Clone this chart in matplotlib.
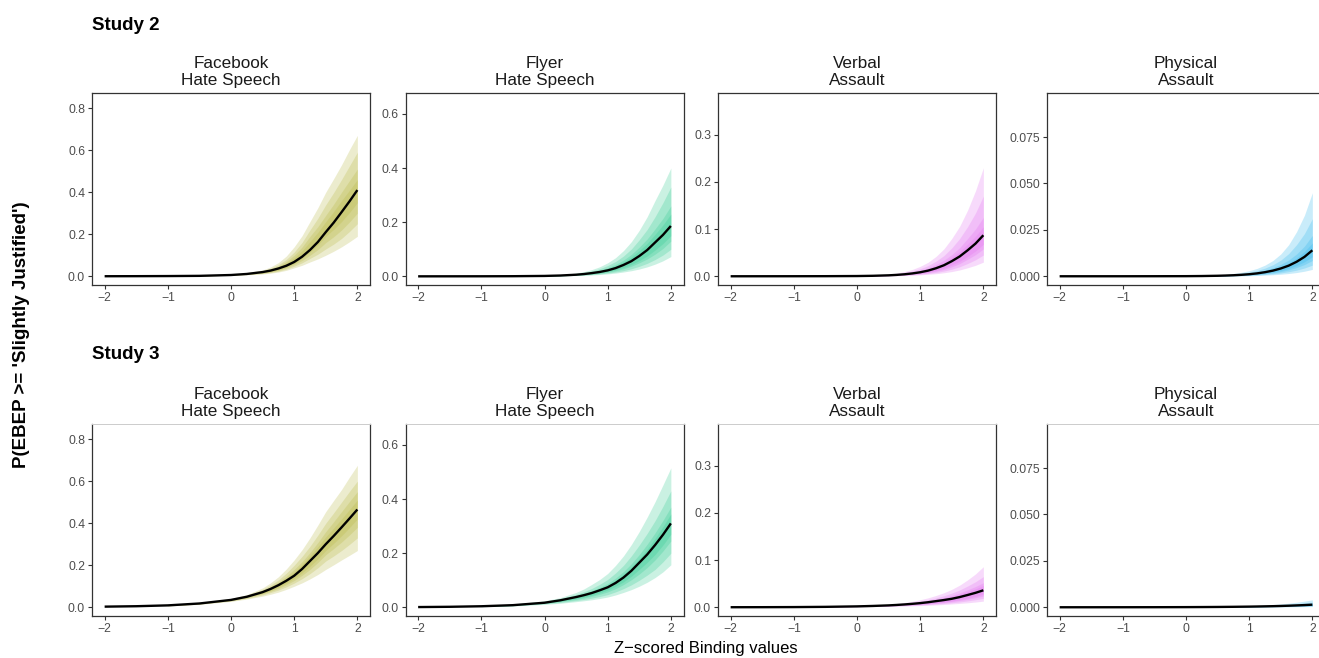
import matplotlib
matplotlib.use("Agg")
import matplotlib.pyplot as plt

plt.rcParams['font.family'] = ['Liberation Sans', 'DejaVu Sans']

# ---- data ----
X = [-2, -1.5, -1, -0.5, 0, 0.25, 0.5, 0.625, 0.75, 0.875, 1, 1.125, 1.25, 1.375, 1.5, 1.625, 1.75, 1.875, 2]
BAND_X = [-1, -0.5, 0, 0.25, 0.5, 0.625, 0.75, 0.875, 1, 1.125, 1.25, 1.375, 1.5, 1.625, 1.75, 1.875, 2]

titles = ["Facebook\nHate Speech", "Flyer\nHate Speech", "Verbal\nAssault", "Physical\nAssault"]
studies = ["Study 2", "Study 3"]
colors = ["#B5B53C", "#2CCB8F", "#E26EF0", "#2BB5EE"]
ylims = [(-0.0415, 0.8715), (-0.032, 0.677), (-0.0185, 0.3885), (-0.0047, 0.0987)]
yticks = [[0.0, 0.2, 0.4, 0.6, 0.8], [0.0, 0.2, 0.4, 0.6], [0.0, 0.1, 0.2, 0.3],
          [0.0, 0.025, 0.05, 0.075]]
yfmt = ["{:.1f}", "{:.1f}", "{:.1f}", "{:.3f}"]

# bands listed outer -> inner

# Study 2 - Facebook
fb2_mid = [0.0002, 0.0005, 0.001, 0.002, 0.006, 0.011, 0.02, 0.027, 0.037, 0.05, 0.068, 0.093, 0.125, 0.163, 0.21, 0.255, 0.305, 0.356, 0.41]
fb2_hi = [[0.0012, 0.0027, 0.008, 0.017, 0.03, 0.044, 0.065, 0.096, 0.14, 0.193, 0.26, 0.326, 0.40, 0.464, 0.53, 0.602, 0.67],
          [0.0011, 0.0025, 0.0075, 0.015, 0.026, 0.038, 0.055, 0.080, 0.115, 0.161, 0.22, 0.276, 0.34, 0.398, 0.46, 0.525, 0.59],
          [0.0011, 0.0023, 0.007, 0.0135, 0.023, 0.033, 0.048, 0.070, 0.10, 0.139, 0.19, 0.236, 0.29, 0.343, 0.40, 0.455, 0.51],
          [0.00105, 0.0022, 0.0065, 0.0125, 0.021, 0.030, 0.043, 0.062, 0.088, 0.121, 0.165, 0.209, 0.26, 0.308, 0.36, 0.409, 0.46]]
fb2_lo = [[0.0008, 0.0015, 0.0045, 0.007, 0.011, 0.0148, 0.02, 0.0283, 0.04, 0.0522, 0.068, 0.0826, 0.10, 0.119, 0.14, 0.164, 0.19],
          [0.0009, 0.0016, 0.005, 0.008, 0.013, 0.0177, 0.024, 0.034, 0.048, 0.064, 0.085, 0.105, 0.13, 0.153, 0.18, 0.213, 0.25],
          [0.0009, 0.0017, 0.0053, 0.009, 0.015, 0.0205, 0.028, 0.040, 0.056, 0.075, 0.10, 0.127, 0.16, 0.188, 0.22, 0.258, 0.30],
          [0.00095, 0.0018, 0.0056, 0.0095, 0.016, 0.022, 0.031, 0.044, 0.062, 0.085, 0.115, 0.149, 0.19, 0.223, 0.26, 0.303, 0.35]]

# Study 2 - Flyer
fl2_mid = [0.0, 0.0001, 0.0002, 0.0005, 0.0015, 0.003, 0.006, 0.0085, 0.012, 0.0162, 0.022, 0.0304, 0.042, 0.0561, 0.075, 0.097, 0.125, 0.153, 0.186]
fl2_hi = [[0.0003, 0.0009, 0.0025, 0.0055, 0.012, 0.0173, 0.025, 0.0354, 0.05, 0.0689, 0.095, 0.128, 0.17, 0.22, 0.28, 0.337, 0.40],
          [0.00027, 0.0008, 0.0022, 0.0047, 0.01, 0.0141, 0.02, 0.0283, 0.04, 0.0548, 0.075, 0.101, 0.135, 0.173, 0.22, 0.272, 0.33],
          [0.00025, 0.0007, 0.0019, 0.004, 0.008, 0.0113, 0.016, 0.0226, 0.032, 0.0438, 0.06, 0.081, 0.108, 0.138, 0.175, 0.214, 0.26],
          [0.00023, 0.0006, 0.0017, 0.0035, 0.007, 0.0099, 0.014, 0.0198, 0.028, 0.0385, 0.053, 0.071, 0.095, 0.122, 0.155, 0.19, 0.23]]
fl2_lo = [[0.0001, 0.0003, 0.0008, 0.0016, 0.003, 0.0039, 0.005, 0.0067, 0.009, 0.012, 0.016, 0.0208, 0.027, 0.0349, 0.045, 0.0573, 0.073],
          [0.00013, 0.00035, 0.001, 0.0019, 0.0035, 0.0048, 0.0065, 0.0088, 0.012, 0.0159, 0.021, 0.0279, 0.037, 0.0479, 0.062, 0.0787, 0.10],
          [0.00015, 0.0004, 0.0011, 0.0022, 0.0043, 0.0059, 0.008, 0.011, 0.015, 0.0205, 0.028, 0.0374, 0.05, 0.064, 0.082, 0.103, 0.13],
          [0.00017, 0.00045, 0.0013, 0.0025, 0.005, 0.0069, 0.0095, 0.0131, 0.018, 0.0244, 0.033, 0.0437, 0.058, 0.075, 0.097, 0.121, 0.15]]

# Study 2 - Verbal
va2_mid = [0.0, 0.00005, 0.0001, 0.0002, 0.0005, 0.001, 0.002, 0.0029, 0.0042, 0.006, 0.0085, 0.012, 0.017, 0.0233, 0.032, 0.042, 0.055, 0.0692, 0.087]
va2_hi = [[0.0002, 0.0004, 0.001, 0.0022, 0.0048, 0.0069, 0.01, 0.0145, 0.021, 0.0297, 0.042, 0.058, 0.08, 0.106, 0.14, 0.181, 0.23],
          [0.00016, 0.00033, 0.0008, 0.0018, 0.0037, 0.0054, 0.0078, 0.0112, 0.016, 0.0226, 0.032, 0.0438, 0.06, 0.08, 0.105, 0.134, 0.17],
          [0.00014, 0.00028, 0.0007, 0.0015, 0.003, 0.0043, 0.0062, 0.0088, 0.0125, 0.0177, 0.025, 0.0339, 0.046, 0.0607, 0.08, 0.10, 0.125],
          [0.00012, 0.00025, 0.0006, 0.0013, 0.0026, 0.0037, 0.0053, 0.0075, 0.0107, 0.015, 0.021, 0.029, 0.04, 0.0522, 0.068, 0.0845, 0.105]]
va2_lo = [[0.00004, 0.0001, 0.0002, 0.0004, 0.0008, 0.0011, 0.0016, 0.0022, 0.003, 0.0041, 0.0055, 0.0074, 0.01, 0.0134, 0.018, 0.0232, 0.03],
          [0.00006, 0.00013, 0.00028, 0.00055, 0.0011, 0.00156, 0.0022, 0.003, 0.0042, 0.0058, 0.008, 0.011, 0.015, 0.0201, 0.027, 0.0349, 0.045],
          [0.00007, 0.00016, 0.00035, 0.0007, 0.0014, 0.002, 0.0028, 0.0039, 0.0054, 0.0075, 0.0105, 0.0145, 0.02, 0.0268, 0.036, 0.0457, 0.058],
          [0.00008, 0.00018, 0.0004, 0.0008, 0.0016, 0.0023, 0.0032, 0.0045, 0.0063, 0.0089, 0.0125, 0.0173, 0.024, 0.0317, 0.042, 0.0534, 0.068]]

# Study 2 - Physical
pa2_mid = [0.0, 0.000005, 0.00001, 0.00003, 0.00006, 0.00013, 0.00027, 0.00039, 0.00055, 0.00078, 0.0011, 0.00156, 0.0022, 0.00304, 0.0042, 0.00572, 0.0078, 0.01045, 0.014]
pa2_hi = [[0.00003, 0.00009, 0.00018, 0.00037, 0.00075, 0.00106, 0.0015, 0.00212, 0.003, 0.00424, 0.006, 0.00849, 0.012, 0.017, 0.024, 0.0329, 0.045],
          [0.00002, 0.00006, 0.00013, 0.00027, 0.00055, 0.00078, 0.0011, 0.00156, 0.0022, 0.00311, 0.0044, 0.00619, 0.0087, 0.0122, 0.017, 0.023, 0.031],
          [0.000015, 0.00005, 0.0001, 0.0002, 0.00042, 0.0006, 0.00085, 0.0012, 0.0017, 0.00237, 0.0033, 0.0046, 0.0064, 0.00876, 0.012, 0.01625, 0.022],
          [0.000013, 0.00004, 0.00008, 0.00017, 0.00035, 0.000495, 0.0007, 0.00099, 0.0014, 0.00198, 0.0028, 0.00385, 0.0053, 0.00721, 0.0098, 0.0133, 0.018]]
pa2_lo = [[0.000004, 0.00001, 0.00002, 0.00004, 0.00008, 0.00011, 0.00015, 0.00021, 0.0003, 0.00042, 0.0006, 0.00081, 0.0011, 0.00148, 0.002, 0.00272, 0.0037],
          [0.000006, 0.000015, 0.00003, 0.00006, 0.00012, 0.00017, 0.00025, 0.00035, 0.0005, 0.00069, 0.00095, 0.00131, 0.0018, 0.00244, 0.0033, 0.00445, 0.006],
          [0.000008, 0.00002, 0.00004, 0.00008, 0.00017, 0.00024, 0.00034, 0.00048, 0.00068, 0.00094, 0.0013, 0.0018, 0.0025, 0.00343, 0.0047, 0.00632, 0.0085],
          [0.000009, 0.000025, 0.00005, 0.0001, 0.0002, 0.00028, 0.0004, 0.00057, 0.0008, 0.00113, 0.0016, 0.00223, 0.0031, 0.00424, 0.0058, 0.0078, 0.0105]]

# Study 3 - Facebook
fb3_mid = [0.003, 0.005, 0.009, 0.018, 0.035, 0.05, 0.072, 0.087, 0.105, 0.126, 0.15, 0.182, 0.22, 0.258, 0.30, 0.339, 0.38, 0.422, 0.465]
fb3_hi = [[0.013, 0.023, 0.042, 0.06, 0.092, 0.116, 0.145, 0.182, 0.225, 0.274, 0.33, 0.391, 0.455, 0.508, 0.56, 0.619, 0.675],
          [0.012, 0.0215, 0.04, 0.057, 0.085, 0.105, 0.13, 0.162, 0.20, 0.242, 0.29, 0.343, 0.40, 0.449, 0.50, 0.551, 0.60],
          [0.011, 0.0205, 0.038, 0.054, 0.079, 0.098, 0.12, 0.147, 0.18, 0.217, 0.26, 0.308, 0.36, 0.407, 0.455, 0.503, 0.55],
          [0.0105, 0.0198, 0.037, 0.052, 0.076, 0.093, 0.113, 0.138, 0.168, 0.204, 0.245, 0.288, 0.335, 0.377, 0.42, 0.465, 0.51]]
fb3_lo = [[0.006, 0.014, 0.028, 0.039, 0.053, 0.062, 0.072, 0.085, 0.10, 0.116, 0.135, 0.156, 0.18, 0.202, 0.225, 0.247, 0.27],
          [0.0068, 0.015, 0.030, 0.042, 0.059, 0.070, 0.082, 0.097, 0.115, 0.136, 0.16, 0.188, 0.22, 0.244, 0.27, 0.299, 0.33],
          [0.0075, 0.016, 0.032, 0.045, 0.064, 0.076, 0.09, 0.107, 0.127, 0.152, 0.18, 0.213, 0.25, 0.279, 0.31, 0.344, 0.38],
          [0.008, 0.0167, 0.033, 0.047, 0.067, 0.080, 0.096, 0.115, 0.137, 0.164, 0.195, 0.23, 0.27, 0.304, 0.34, 0.379, 0.42]]

# Study 3 - Flyer
fl3_mid = [0.001, 0.002, 0.004, 0.008, 0.017, 0.026, 0.038, 0.045, 0.053, 0.063, 0.074, 0.09, 0.11, 0.135, 0.165, 0.195, 0.23, 0.268, 0.31]
fl3_hi = [[0.0065, 0.012, 0.024, 0.036, 0.055, 0.068, 0.085, 0.103, 0.125, 0.155, 0.19, 0.232, 0.28, 0.333, 0.39, 0.452, 0.515],
          [0.0058, 0.011, 0.022, 0.032, 0.048, 0.058, 0.07, 0.085, 0.103, 0.127, 0.155, 0.19, 0.23, 0.273, 0.32, 0.373, 0.43],
          [0.0052, 0.0098, 0.020, 0.029, 0.043, 0.052, 0.062, 0.074, 0.088, 0.108, 0.132, 0.161, 0.195, 0.233, 0.275, 0.321, 0.37],
          [0.0048, 0.0093, 0.019, 0.028, 0.041, 0.049, 0.058, 0.069, 0.081, 0.10, 0.122, 0.149, 0.18, 0.215, 0.255, 0.298, 0.345]]
fl3_lo = [[0.0024, 0.005, 0.011, 0.015, 0.021, 0.0243, 0.028, 0.0326, 0.038, 0.0457, 0.055, 0.0655, 0.078, 0.0926, 0.11, 0.131, 0.157],
          [0.0028, 0.0058, 0.013, 0.018, 0.025, 0.029, 0.034, 0.040, 0.047, 0.057, 0.069, 0.083, 0.10, 0.119, 0.14, 0.168, 0.20],
          [0.0031, 0.0065, 0.0145, 0.021, 0.029, 0.0345, 0.041, 0.0483, 0.057, 0.069, 0.084, 0.102, 0.123, 0.147, 0.175, 0.208, 0.245],
          [0.0034, 0.007, 0.0155, 0.023, 0.032, 0.038, 0.045, 0.054, 0.064, 0.078, 0.094, 0.115, 0.14, 0.166, 0.195, 0.23, 0.27]]

# Study 3 - Verbal
va3_mid = [0.0001, 0.0002, 0.0004, 0.0009, 0.0019, 0.0028, 0.004, 0.0049, 0.006, 0.0073, 0.0088, 0.0107, 0.013, 0.0153, 0.018, 0.0216, 0.026, 0.0306, 0.036]
va3_hi = [[0.0007, 0.0014, 0.0026, 0.004, 0.0063, 0.0079, 0.01, 0.0126, 0.016, 0.02, 0.025, 0.0308, 0.038, 0.0469, 0.058, 0.0706, 0.086],
          [0.0006, 0.0012, 0.0024, 0.0036, 0.0055, 0.0068, 0.0085, 0.0105, 0.013, 0.0161, 0.02, 0.0245, 0.03, 0.0367, 0.045, 0.0541, 0.065],
          [0.00055, 0.0011, 0.0022, 0.0032, 0.0049, 0.006, 0.0074, 0.0091, 0.0112, 0.0138, 0.017, 0.0206, 0.025, 0.0304, 0.037, 0.0439, 0.052],
          [0.0005, 0.00105, 0.0021, 0.003, 0.0046, 0.0056, 0.0069, 0.0084, 0.0103, 0.0126, 0.0155, 0.0187, 0.0225, 0.0272, 0.033, 0.039, 0.046]]
va3_lo = [[0.0002, 0.0005, 0.0011, 0.0015, 0.002, 0.0023, 0.0027, 0.0031, 0.0036, 0.0042, 0.005, 0.0059, 0.007, 0.0082, 0.0095, 0.0111, 0.013],
          [0.00025, 0.0006, 0.0013, 0.0018, 0.0024, 0.0029, 0.0034, 0.004, 0.0048, 0.0057, 0.0068, 0.008, 0.0095, 0.0113, 0.0135, 0.016, 0.019],
          [0.0003, 0.0007, 0.0015, 0.0021, 0.0029, 0.0034, 0.0041, 0.0049, 0.0059, 0.0071, 0.0085, 0.0101, 0.012, 0.0143, 0.017, 0.0202, 0.024],
          [0.00033, 0.00075, 0.0016, 0.0023, 0.0032, 0.0038, 0.0046, 0.0055, 0.0066, 0.0079, 0.0095, 0.0113, 0.0135, 0.0162, 0.0195, 0.0234, 0.028]]

# Study 3 - Physical
pa3_mid = [0.000005, 0.00001, 0.00002, 0.00004, 0.00008, 0.00012, 0.00017, 0.00021, 0.00025, 0.0003, 0.00035, 0.00042, 0.0005, 0.00059, 0.0007, 0.00084, 0.001, 0.00118, 0.0014]
pa3_hi = [[0.00006, 0.0001, 0.00017, 0.00025, 0.00037, 0.00045, 0.00055, 0.00066, 0.0008, 0.00098, 0.0012, 0.00147, 0.0018, 0.0022, 0.0027, 0.0033, 0.004],
          [0.00004, 0.00007, 0.00012, 0.00018, 0.00027, 0.00033, 0.0004, 0.00049, 0.0006, 0.00073, 0.0009, 0.00108, 0.0013, 0.00157, 0.0019, 0.0023, 0.0028],
          [0.00003, 0.00006, 0.0001, 0.00015, 0.00022, 0.00027, 0.00033, 0.0004, 0.00048, 0.00058, 0.0007, 0.00084, 0.001, 0.00122, 0.0015, 0.00177, 0.0021],
          [0.000027, 0.00005, 0.00009, 0.00013, 0.0002, 0.00024, 0.00029, 0.00035, 0.00042, 0.0005, 0.0006, 0.00073, 0.0009, 0.00108, 0.0013, 0.00153, 0.0018]]
pa3_lo = [[0.000006, 0.00001, 0.00002, 0.00003, 0.00005, 0.00006, 0.00007, 0.000084, 0.0001, 0.00012, 0.00014, 0.00017, 0.0002, 0.00024, 0.00028, 0.00033, 0.0004],
          [0.000009, 0.000015, 0.00003, 0.00005, 0.00007, 0.000084, 0.0001, 0.00012, 0.00015, 0.00018, 0.00022, 0.00027, 0.00032, 0.00038, 0.00045, 0.00052, 0.0006],
          [0.000013, 0.00002, 0.00005, 0.00007, 0.0001, 0.00012, 0.00015, 0.00018, 0.00022, 0.00027, 0.00032, 0.00038, 0.00046, 0.00055, 0.00065, 0.00076, 0.0009],
          [0.000016, 0.00003, 0.00006, 0.00009, 0.00013, 0.00016, 0.00019, 0.00023, 0.00027, 0.00032, 0.00039, 0.00047, 0.00056, 0.00067, 0.0008, 0.00094, 0.0011]]

panels = [
    [(fb2_mid, fb2_lo, fb2_hi), (fl2_mid, fl2_lo, fl2_hi), (va2_mid, va2_lo, va2_hi), (pa2_mid, pa2_lo, pa2_hi)],
    [(fb3_mid, fb3_lo, fb3_hi), (fl3_mid, fl3_lo, fl3_hi), (va3_mid, va3_lo, va3_hi), (pa3_mid, pa3_lo, pa3_hi)],
]

# ---- layout (pixel positions of the panels) ----
W, H = 1319, 658
col_left = [92, 405.5, 718, 1047]
col_width = 278
row_top = [93, 424]
row_height = 192

fig = plt.figure(figsize=(W / 100, H / 100), dpi=100)

for r in range(2):
    for c in range(4):
        left = col_left[c] / W
        bottom = 1 - (row_top[r] + row_height) / H
        ax = fig.add_axes([left, bottom, col_width / W, row_height / H])
        mid, lo, hi = panels[r][c]
        for k in range(4):
            ax.fill_between(BAND_X, lo[k], hi[k], color=colors[c], alpha=0.25, lw=0)
        ax.plot(X, mid, color='black', lw=1.7, solid_capstyle='butt')

        ax.set_xlim(-2.2, 2.2)
        ax.set_ylim(*ylims[c])
        ax.set_xticks([-2, -1, 0, 1, 2])
        ax.set_yticks(yticks[c])
        ax.set_yticklabels([yfmt[c].format(v) for v in yticks[c]])
        ax.tick_params(length=3, width=0.8, color='#333333', labelcolor='#4D4D4D',
                       labelsize=8.8, pad=2)
        for s in ax.spines.values():
            s.set_color('#333333')
            s.set_linewidth(0.9)
        if r == 1:
            ax.spines['top'].set_color('#CCCCCC')
            ax.spines['top'].set_linewidth(0.7)
        ax.set_title(titles[c], fontsize=12.3, color='#1A1A1A', pad=6, linespacing=1.12)

for r in range(2):
    fig.text(92 / W, 1 - (30 + r * 329) / H, studies[r], fontsize=13.5,
             fontweight='bold', va='baseline', ha='left')

fig.text(22 / W, 1 - 335 / H, "P(EBEP >= 'Slightly Justified')", rotation=90,
         fontsize=13.5, fontweight='bold', ha='center', va='center')
fig.text(706 / W, 1 - 648 / H, "Z\u2212scored Binding values", fontsize=12,
         ha='center', va='center')

fig.savefig('out.png', dpi=100)
